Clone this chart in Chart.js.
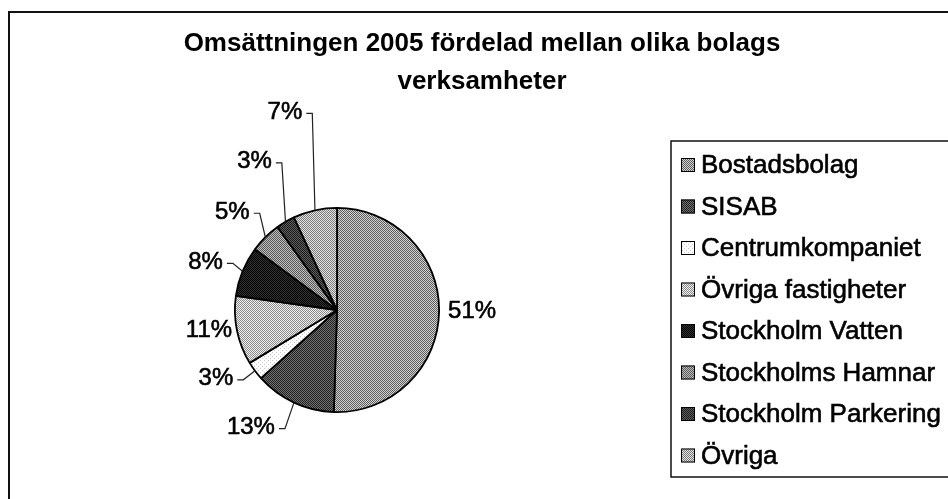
<!DOCTYPE html>
<html>
<head>
<meta charset="utf-8">
<script src="https://cdn.jsdelivr.net/npm/chart.js@4.4.0/dist/chart.umd.min.js"></script>
<style>
  html, body { margin: 0; padding: 0; background: #fff; overflow: hidden; }
  #wrap { width: 948px; height: 499px; }
</style>
</head>
<body>
<div id="wrap"><canvas id="omsattning" width="948" height="499"></canvas></div>
<script>
// data
var titleLines = ['Omsättningen 2005 fördelad mellan olika bolags', 'verksamheter'];
var categories = ['Bostadsbolag', 'SISAB', 'Centrumkompaniet', 'Övriga fastigheter',
                  'Stockholm Vatten', 'Stockholms Hamnar', 'Stockholm Parkering', 'Övriga'];
var shares = [51, 13, 3, 11, 8, 5, 3, 7];

// look: halftone fills (foreground dot colour, background colour, cell size)
var fills = [
  ['#5c5c5c', '#d4d4d4', 2],
  ['#222222', '#707070', 2],
  ['#c8c8c8', '#ffffff', 4],
  ['#8c8c8c', '#eeeeee', 2],
  ['#000000', '#333333', 2],
  ['#5a5a5a', '#bcbcbc', 2],
  ['#1a1a1a', '#5e5e5e', 2],
  ['#7c7c7c', '#e2e2e2', 2]
];
// where each % label sits, relative to the slice's outer midpoint
var labelShift = [[33, 0], [-43, 25], [-39, 8], [-28, 0], [-37, -9], [-33, -25], [-31, -60], [-30, -98]];

var FONT = '"Liberation Sans", Arial, sans-serif';

function halftone(fg, bg, step) {
  var c = document.createElement('canvas');
  c.width = c.height = step;
  var g = c.getContext('2d');
  g.fillStyle = bg;
  g.fillRect(0, 0, step, step);
  g.fillStyle = fg;
  g.fillRect(0, 0, 1, 1);
  g.fillRect(step / 2, step / 2, 1, 1);
  return g.createPattern(c, 'repeat');
}
var patterns = fills.map(function (f) { return halftone(f[0], f[1], f[2]); });

// scanned print looks a little heavier than a plain canvas font
function heavyText(ctx, txt, x, y) {
  ctx.fillText(txt, x, y);
  ctx.strokeText(txt, x, y);
}

var decor = {
  id: 'decor',
  beforeDraw: function (chart) {
    var ctx = chart.ctx;
    ctx.save();
    ctx.fillStyle = '#fff';
    ctx.fillRect(0, 0, chart.width, chart.height);
    ctx.strokeStyle = '#111';
    ctx.lineWidth = 2;
    ctx.strokeRect(9, 12, chart.width + 20, chart.height + 20);
    ctx.restore();
  },
  afterDraw: function (chart) {
    var ctx = chart.ctx;
    ctx.save();
    // title
    ctx.fillStyle = '#000';
    ctx.textAlign = 'center';
    ctx.textBaseline = 'middle';
    ctx.font = 'bold 26px ' + FONT;
    ctx.fillText(titleLines[0], 482, 44);
    ctx.fillText(titleLines[1], 482, 82);

    // percent labels with leader lines
    var meta = chart.getDatasetMeta(0);
    ctx.font = '24px ' + FONT;
    meta.data.forEach(function (arc, i) {
      var p = arc.getProps(['x', 'y', 'startAngle', 'endAngle', 'outerRadius']);
      var mid = (p.startAngle + p.endAngle) / 2;
      var ax = p.x + Math.cos(mid) * p.outerRadius;
      var ay = p.y + Math.sin(mid) * p.outerRadius;
      var lx = ax + labelShift[i][0];
      var ly = ay + labelShift[i][1];
      var txt = shares[i] + '%';
      var w = ctx.measureText(txt).width;
      ctx.fillStyle = '#000';
      ctx.strokeStyle = '#000';
      ctx.lineWidth = 0.6;
      heavyText(ctx, txt, lx, ly);
      var edge = lx < ax ? lx + w / 2 + 4 : lx - w / 2 - 4;
      if (Math.hypot(ax - edge, ay - ly) > 15) {
        var dir = lx < ax ? 1 : -1;
        ctx.beginPath();
        ctx.strokeStyle = '#222';
        ctx.lineWidth = 1.2;
        ctx.moveTo(edge, ly + 1);
        ctx.lineTo(edge + dir * 6, ly + 1);
        ctx.lineTo(ax, ay);
        ctx.stroke();
      }
    });

    // legend
    var bx = 671, by = 141, bh = 336;
    ctx.strokeStyle = '#111';
    ctx.lineWidth = 1.5;
    ctx.strokeRect(bx, by, chart.width, bh);
    ctx.textAlign = 'left';
    ctx.font = '26px ' + FONT;
    categories.forEach(function (name, i) {
      var cy = 165 + i * 41.5;
      ctx.fillStyle = patterns[i];
      ctx.fillRect(681, cy - 7, 14, 14);
      ctx.strokeStyle = '#000';
      ctx.lineWidth = 1;
      ctx.strokeRect(681.5, cy - 6.5, 13, 13);
      ctx.fillStyle = '#000';
      ctx.lineWidth = 0.6;
      heavyText(ctx, name, 701, cy + 1);
    });
    ctx.restore();
  }
};

new Chart(document.getElementById('omsattning'), {
  type: 'pie',
  data: {
    labels: categories,
    datasets: [{
      data: shares,
      backgroundColor: patterns,
      borderColor: '#000',
      borderWidth: 1.8
    }]
  },
  options: {
    responsive: false,
    animation: false,
    devicePixelRatio: 1,
    layout: { padding: { left: 234, right: 508, top: 207, bottom: 86 } },
    plugins: {
      legend: { display: false },
      title: { display: false },
      tooltip: { enabled: false }
    }
  },
  plugins: [decor]
});
</script>
</body>
</html>
